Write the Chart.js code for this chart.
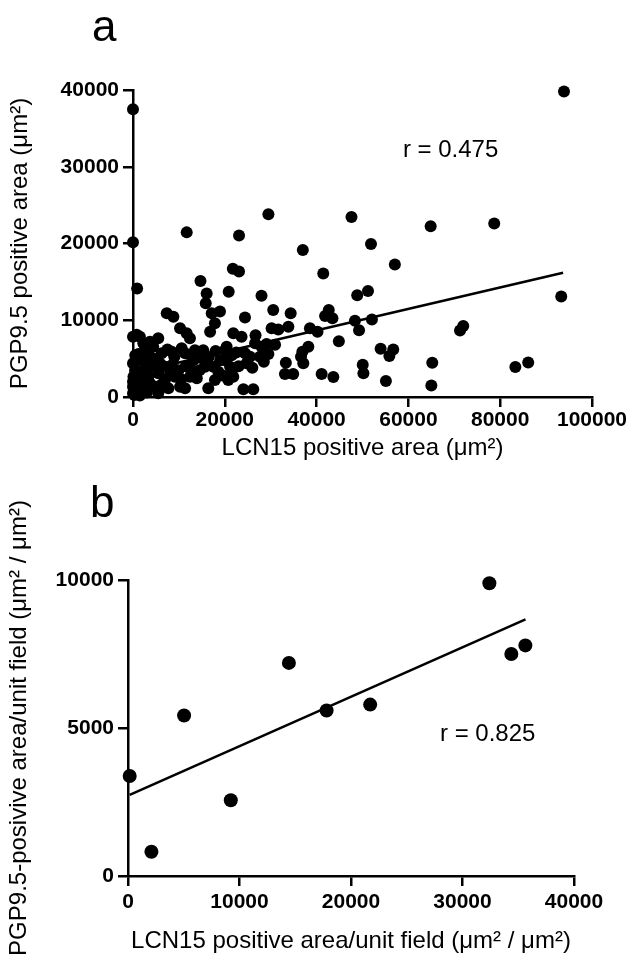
<!DOCTYPE html>
<html>
<head>
<meta charset="utf-8">
<script src="https://cdn.jsdelivr.net/npm/chart.js@4"></script>
<style>
  html, body { margin: 0; padding: 0; background: #fff; }
  #wrap { position: relative; width: 635px; height: 961px; }
  #chartA { position: absolute; left: 0; top: 0; }
  #chartB { position: absolute; left: 0; top: 470px; }
</style>
</head>
<body>
<div id="wrap">
  <canvas id="chartA" width="635" height="470"></canvas>
  <canvas id="chartB" width="635" height="491"></canvas>
</div>
<script>
// panel a : LCN15 positive area vs PGP9.5 positive area (um2)
var lcnA = [0, 0, 900, 0, 1500, 500, 0, 450, 100, 1150, 450, 1900, 2600, 1500, 2600, 3350,
  0, 800, 2250, 4050, 3700, 0, 300, 0, 1150, 800, 5500, 3700, 2250, 2600, 4400, 3350,
  6250, 8450, 10600, 11350, 13500, 15300, 14950, 13150, 20050, 21500, 6950, 8450, 9900, 9150,
  6950, 5500, 4800, 7700, 10250, 11350, 12400, 13900, 15700, 17500, 18600, 17850, 16400, 21500,
  20750, 7350, 8800, 17150, 18950, 17850, 16800, 10250, 11700, 12400, 15850, 16050, 14700, 11700,
  23100, 29500, 37000, 41450, 47600, 21750, 23100, 20850, 28000, 30550, 34350, 24400, 33850, 31650,
  30200, 42650, 41850, 43450, 38550, 40200, 21850, 23650, 26700, 26600, 29100, 30950, 38200, 36900,
  36600, 37100, 44850, 33300, 33100, 34900, 41100, 43650, 24050, 26200, 20400, 20050, 21150, 21850,
  24400, 24750, 25500, 27650, 28000, 93900, 93300, 78700, 64850, 51850, 57050, 48850, 51200, 48350,
  52050, 49250, 53950, 56700, 55850, 71950, 71250, 65200, 65000, 83300, 86100, 50050, 50200, 55100,
  1200, 2000, 3000, 5000, 6000, 9000, 11500, 12800, 10500, 8000, 6200, 3000, 1500, 5500,
  14500, 16500, 18000, 19000, 23000, 22500, 26000, 28500, 29500, 19500, 12500, 7500];
var pgpA = [37500, 20150, 14150, 7850, 7850, 5450, 4400, 3500, 2650, 1800, 900, 700, 1350, 3100, 3950, 2650,
  1350, 4800, 2200, 3950, 1800, 500, 250, 2000, 1100, 8100, 7650, 7200, 7000, 6100, 6550, 5700,
  5700, 5900, 6350, 5700, 6100, 6100, 5050, 4800, 6100, 5450, 3950, 4150, 3500, 2650,
  2200, 3100, 1350, 1150, 1350, 1150, 2650, 2450, 3950, 3950, 3300, 2200, 1150, 3500,
  2200, 10900, 10450, 10900, 11150, 9600, 8500, 8950, 8300, 7650, 12200, 13500, 15100, 21450,
  21050, 23800, 19150, 16100, 23450, 16700, 16350, 13700, 13200, 11350, 10900, 10350, 9150, 8800,
  8950, 11350, 10550, 10250, 8950, 8500, 8300, 7850, 8050, 7000, 6900, 6800, 6550, 5900,
  5250, 4400, 7250, 4450, 3000, 3000, 3000, 2600, 1000, 1000, 6550, 4800, 3950, 2650,
  5700, 4400, 5250, 5250, 6550, 39800, 13100, 22600, 22250, 19950, 17250, 13250, 13800, 9950,
  10100, 8700, 6300, 6200, 5350, 9250, 8650, 4450, 1500, 3900, 4500, 4200, 3100, 2100,
  5600, 5000, 4600, 5000, 4300, 5200, 4000, 3500, 2300, 2800, 1600, 600, 200, 500,
  3500, 5200, 6000, 4800, 4000, 5800, 3800, 4600, 5600, 2800, 5500, 6200];
var fitA_x = [0, 93700];
var fitA_y = [3100, 16200];
var xTicksA = [0, 20000, 40000, 60000, 80000, 100000];
var yTicksA = [0, 10000, 20000, 30000, 40000];

// panel b : per unit field
var lcnB = [150, 2100, 5030, 9220, 14430, 17810, 21720, 32410, 34380, 35640];
var pgpB = [3380, 820, 5420, 2560, 7200, 5590, 5790, 9890, 7500, 7790];
var fitB_x = [150, 35650];
var fitB_y = [2740, 8670];
var xTicksB = [0, 10000, 20000, 30000, 40000];
var yTicksB = [0, 5000, 10000];

var FONT = '"Liberation Sans", Arial, Helvetica, sans-serif';

function pts(xs, ys) {
  return xs.map(function(x, i) { return { x: x, y: ys[i] }; });
}

// draws free text: r values (data coords) and panel letter (pixel coords)
var notes = {
  id: 'notes',
  afterDraw: function(chart, args, opts) {
    var ctx = chart.ctx;
    ctx.save();
    ctx.fillStyle = '#000';
    ctx.textAlign = 'left';
    ctx.textBaseline = 'alphabetic';
    ctx.font = '24px ' + FONT;
    ctx.fillText(opts.rText,
      chart.scales.x.getPixelForValue(opts.rAt[0]),
      chart.scales.y.getPixelForValue(opts.rAt[1]));
    ctx.font = '44px ' + FONT;
    ctx.fillText(opts.letter, opts.letterAt[0], opts.letterAt[1]);
    ctx.restore();
  }
};

function axis(ticksArr, min, max, title, titlePad, tickPad, fit) {
  return {
    type: 'linear',
    min: min,
    max: max,
    afterBuildTicks: function(s) { s.ticks = ticksArr.map(function(v) { return { value: v }; }); },
    afterFit: fit,
    ticks: {
      color: '#000',
      font: { family: FONT, size: 21, weight: 'bold' },
      padding: tickPad,
      maxRotation: 0,
      autoSkip: false,
      callback: function(v) { return String(v); }
    },
    grid: { drawOnChartArea: false, drawTicks: true, tickLength: 10, color: '#000', lineWidth: 2.5 },
    border: { display: true, color: '#000', width: 2.5 },
    title: {
      display: true,
      text: title,
      color: '#000',
      font: { family: FONT, size: 24 },
      padding: titlePad
    }
  };
}

function makeChart(id, cfg) {
  return new Chart(document.getElementById(id).getContext('2d'), {
    type: 'scatter',
    data: {
      datasets: [{
        data: pts(cfg.xs, cfg.ys),
        backgroundColor: '#000',
        borderWidth: 0,
        pointRadius: cfg.r,
        pointHoverRadius: cfg.r,
        clip: false
      }, {
        type: 'line',
        data: pts(cfg.fitX, cfg.fitY),
        borderColor: '#000',
        borderWidth: 2.5,
        pointRadius: 0,
        fill: false,
        clip: false
      }]
    },
    options: {
      responsive: false,
      animation: false,
      devicePixelRatio: 1,
      layout: { padding: cfg.pad },
      plugins: {
        legend: { display: false },
        tooltip: { enabled: false },
        notes: cfg.notes
      },
      scales: {
        x: axis(cfg.xTicks, 0, cfg.xMax, cfg.xTitle, { top: 0, bottom: cfg.xTitlePadB }, cfg.xTickPad,
          function(s) { s.height = cfg.xH; }),
        y: axis(cfg.yTicks, 0, cfg.yMax, cfg.yTitle, { top: cfg.yTitlePadT, bottom: 0 }, 4,
          function(s) { s.width = cfg.yW; })
      }
    },
    plugins: [notes]
  });
}

makeChart('chartA', {
  xs: lcnA, ys: pgpA, fitX: fitA_x, fitY: fitA_y, r: 6,
  xTicks: xTicksA, yTicks: yTicksA, xMax: 100000, yMax: 40000,
  xTitle: 'LCN15 positive area (\u03bcm\u00b2)',
  yTitle: 'PGP9.5 positive area (\u03bcm\u00b2)',
  pad: { left: 0, top: 90, right: 43, bottom: 0 },
  xH: 73, yW: 133, xTitlePadB: 7, yTitlePadT: 6, xTickPad: 1,
  notes: { rText: 'r = 0.475', rAt: [58800, 31270], letter: 'a', letterAt: [92, 41] }
});

makeChart('chartB', {
  xs: lcnB, ys: pgpB, fitX: fitB_x, fitY: fitB_y, r: 7,
  xTicks: xTicksB, yTicks: yTicksB, xMax: 40000, yMax: 10000,
  xTitle: 'LCN15 positive area/unit field (\u03bcm\u00b2 / \u03bcm\u00b2)',
  yTitle: 'PGP9.5-posivive area/unit field (\u03bcm\u00b2 / \u03bcm\u00b2)',
  pad: { left: 0, top: 110, right: 61, bottom: 0 },
  xH: 85, yW: 128, xTitlePadB: 5, yTitlePadT: 5, xTickPad: 4,
  notes: { rText: 'r = 0.825', rAt: [27980, 4560], letter: 'b', letterAt: [90, 47] }
});
</script>
</body>
</html>
